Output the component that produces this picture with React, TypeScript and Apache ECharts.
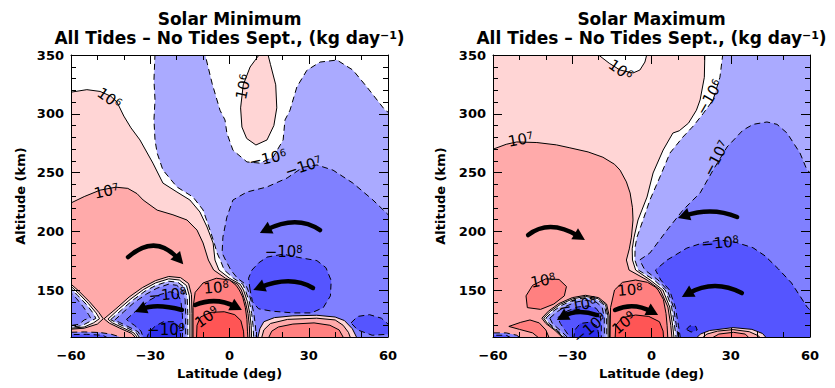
import React, { useEffect, useRef } from 'react';
import * as echarts from 'echarts';

type Pt = [number, number];

// ================= Solar Minimum (left panel) contour regions, [lat, alt] =================
const minLightPink: Pt[] = [[-61,318],[-54,320.5],[-49,319],[-45,315],[-42.6,310],[-40,298],[-37.3,288],[-33.9,277.7],[-29,258],[-25.2,241],[-19.9,233.4],[-15,226.6],[-11.2,216.4],[-8.5,203.6],[-6.2,190],[-5.5,175.5],[-4,167],[0,160],[4,155],[5.3,150],[6.8,140],[7.7,130],[8.2,120],[8.4,108],[-61,108]];
const minPink: Pt[] = [[-61,223],[-55,229.5],[-49,235],[-43,237.5],[-38.5,236.5],[-35,232],[-32.7,226.6],[-27.4,218],[-21.4,214],[-16.1,209.6],[-12.3,201],[-10,190],[-8,175.5],[-6,167],[-1.5,160],[3,155],[4.5,150],[6,140],[7,130],[7.5,120],[7.7,108],[-61,108]];
const minLightBlue: Pt[] = [[-28.2,351],[-28.6,328.7],[-28.2,311.7],[-28.6,294.7],[-28.2,277.7],[-27.4,266.6],[-25.2,252.1],[-19.9,237.7],[-13.8,229.1],[-10,218.1],[-7.4,201.1],[-5.8,190],[-4.7,181.5],[-3.5,175.5],[-2,167],[1.5,160],[5,155],[6,150],[7.5,140],[8.4,130],[8.9,120],[9.2,108],[61,108],[61,300],[58.9,303],[52,322.8],[46.7,337.2],[40.7,345.7],[34.3,344],[29.3,337],[25.5,322.8],[22.9,303],[21,294.7],[20.3,277.7],[16.5,263],[11.5,258],[6.6,259],[1.3,269],[-1,283.6],[-1.7,294.7],[-3.6,303],[-6.6,326],[-9.3,351]];
const minOval: Pt[] = [[11.5,351],[9.5,345],[7.8,339.8],[5.2,324.6],[4.2,305],[4.7,288.7],[6.5,279],[10,273.4],[14.2,277.7],[16.8,290],[17.9,305],[17.5,324.6],[15.5,342],[14.5,351]];
const minMidBlue: Pt[] = [[61,212],[54.3,226.6],[46.7,241],[39.2,252],[33.1,256.4],[27.8,254.5],[21.8,245.3],[14.2,237.7],[6.6,233.4],[1.3,226.6],[-1,212],[-2.5,195],[-2.8,181.5],[-1.5,175.5],[0.5,167],[3,160],[6,155],[7,150],[8.3,140],[9.2,130],[9.8,120],[10.2,108],[61,108]];
const minDarkOval: Pt[] = [[7.8,150],[7.2,160],[8.5,167],[11,173],[14.2,178],[20.3,180.5],[26.7,177.5],[33.1,175],[36.5,169],[38.5,158],[38.2,145],[35.5,135],[31,130.5],[24,130.5],[16,132],[11,134],[8.7,140]];
const minEdgeOval: Pt[] = [[46,122],[48.5,127.5],[53,129],[57.5,126],[61,119],[61,112.5],[54,111.5],[48.5,116]];
const minSouth1: Pt[] = [[10.6,108],[11.5,117],[13,123],[17,126.5],[24,128],[33,128.5],[40,127],[43.5,124],[46.5,117],[48.5,108]];
const minSouth2: Pt[] = [[12,108],[13,116],[15.5,121.5],[22,125],[33,126],[40,124.5],[43,120],[45,114],[46,108]];
const minSouth3: Pt[] = [[14.5,108],[16,115],[18.5,118.5],[24,121],[32,122],[38,120],[41.5,116],[43.5,108]];
const minFloor2: Pt[] = [[-61,108],[-61,114],[-55,114.3],[-49,113.8],[-45,112.5],[-42,110.5],[-41,108]];
const minFloor3: Pt[] = [[-61,108],[-61,112],[-54,112.3],[-48,111.5],[-45,108]];
const minWedge1: Pt[] = [[-61,157],[-57,149],[-53,140],[-49.5,131],[-47.8,125.5],[-50,121],[-55,117.5],[-61,116.5]];
const minWedge0: Pt[] = [[-61,155.2],[-57.2,147.3],[-53.5,138.7],[-50.5,130.5],[-49.2,125.6],[-51.5,122],[-55,118.5],[-61,117.3]];
const minWedgeN1: Pt[] = [[-61,153.5],[-57.5,145.5],[-54,137.3],[-51.5,130],[-50.6,125.8],[-53,123],[-56,119.5],[-61,118.2]];
const minWedgeN2: Pt[] = [[-61,150],[-58,143],[-55.5,136],[-53.3,129],[-52.6,126.3],[-55,124.5],[-57,120.8],[-61,119.5]];
const minCenter3: Pt[] = [[-13.8,108],[-13.8,135],[-13,148],[-10,156],[-5,160],[0,158.5],[2.5,154],[3.7,150],[5,144],[6,135],[6.6,125],[6.8,115],[7,108]];
const minCenter4: Pt[] = [[-12.5,108],[-12.3,120],[-11,127],[-7,131],[-2,131.5],[2,129],[4.3,124],[5.3,115],[5.5,108]];
const minCell1: Pt[] = [[-47.5,125.5],[-43,134],[-38,144],[-33,152],[-28,158],[-23,161.5],[-18.5,160.5],[-15.5,155.5],[-14.4,146],[-14.2,130],[-14.2,108],[-35,108],[-37,113],[-41.5,117.5],[-45.5,121.8]];
const minCell0: Pt[] = [[-46,125.2],[-42,133.5],[-37.3,142.5],[-32.5,150.5],[-28,156],[-23,159.5],[-19,158.5],[-16.3,153.8],[-15.2,145],[-15,130],[-15,108],[-34.3,108],[-36.2,113.5],[-40.5,118],[-44.3,122]];
const minCellN1: Pt[] = [[-45,124.8],[-41,132.8],[-36.8,141],[-32,149],[-27.8,154],[-23,157.5],[-19.5,156.5],[-17,152.2],[-16,143.5],[-15.8,130],[-15.8,108],[-33.6,108],[-35.4,114],[-39.5,118.5],[-43,122.3]];
const minCellN2: Pt[] = [[-43.5,124.3],[-40,131.5],[-36,139.5],[-31.5,146.5],[-27.5,151.5],[-23,155],[-20,154],[-17.8,150],[-16.8,142],[-16.6,130],[-16.6,108],[-33,108],[-34.6,114.5],[-38.5,119],[-41.7,122.5]];
const minCellN3: Pt[] = [[-39,125],[-35,133],[-30.5,141],[-26.5,146],[-22.5,148.5],[-19.8,147],[-18.4,141],[-17.8,128],[-17.8,108],[-32.4,108],[-33.5,115],[-36,120],[-38,123]];
const minCellN4: Pt[] = [[-31.5,108],[-30.5,114],[-28,119.5],[-25,123],[-21,123],[-18.8,118],[-18.4,108]];

// ================= Solar Maximum (right panel) contour regions =================
const maxLightPink: Pt[] = [[-61,351],[-20.6,351],[-16,343],[-11.9,337.2],[-7,334.7],[-4.4,337.2],[-2.5,344],[-1.7,351],[20.2,351],[20,331],[18.4,311.7],[17,303],[14,292],[10.5,285.5],[8.1,283.6],[4.4,269.1],[0.6,249.6],[-1.7,229.1],[-5.1,209.6],[-6.6,195],[-7.3,185],[-7.2,175.5],[-6,167],[-0.5,158.5],[4.3,150],[6.9,135.5],[8,120],[8.6,108],[-61,108]];
const maxPink: Pt[] = [[-61,269],[-55,274],[-51,276],[-43.4,275.5],[-36,273.5],[-30.9,271],[-24,267.5],[-18.4,263],[-14,257],[-11.9,252],[-9.5,242],[-8.1,232.6],[-7.2,220],[-7,209.6],[-7.6,195],[-8.4,185],[-9.5,175.5],[-8.5,167],[-1.7,158.5],[3.4,150],[6.2,135.5],[7.3,120],[7.8,108],[-61,108]];
const maxLightBlue: Pt[] = [[27,351],[61,351],[61,108],[9.4,108],[8.7,120],[7.6,135.5],[5.2,150],[1,158.5],[-5,167],[-6.3,175.5],[-6.2,186.6],[-5.5,195],[-3.6,207],[-0.6,226.6],[3.2,246.2],[7,266.6],[11.9,280.2],[16,290],[19.5,300],[23.3,311.7],[25.9,331]];
const maxMidBlue: Pt[] = [[61,248],[58.9,252],[56.2,266.6],[51.3,283.6],[47.5,291],[43.7,293],[38.5,291],[34.6,286],[28.6,271.7],[23.3,252],[18.4,232.6],[11.9,218],[5.9,201],[-0.6,181.5],[-4.5,175.5],[-2.5,167],[2.5,158.5],[6,150],[8.3,135.5],[9.4,120],[10.2,108],[61,108]];
const maxDarkBlue: Pt[] = [[5.9,175.5],[13.4,185.7],[20,190.5],[25.9,192.6],[32,190.5],[38.4,186],[43,179],[48,168],[53,156],[58.9,135.5],[61,131],[61,108],[11,108],[10.2,120],[9,135.5],[6.8,150],[3.5,158.5],[1.5,167]];
const maxSouth1: Pt[] = [[16.5,108],[18.5,112.5],[22,115.5],[30.9,118],[38,116.5],[42,113],[44,108]];
const maxSouth2: Pt[] = [[18.5,108],[21,112.5],[25,115],[30.9,116.3],[37,114.5],[40.5,111],[41.5,108]];
const maxSouth3: Pt[] = [[22,108],[25.5,112.5],[31,114],[35.5,112.5],[37.5,108]];
const maxBlobN4: Pt[] = [[13.2,116.5],[14.5,119.5],[16.8,119],[17.3,116],[15,114.2]];
const maxFloor2: Pt[] = [[-61,108],[-61,113.5],[-55,113.5],[-51,111.5],[-49,108]];
const maxFloor3: Pt[] = [[-61,108],[-61,111.5],[-55,111.5],[-52,108]];
const maxOval3: Pt[] = [[-47,135],[-47.5,145],[-45,154],[-40,159.5],[-35,159],[-32.2,153],[-33,145],[-37,138],[-42,133.5]];
const maxWedge3: Pt[] = [[-54,119],[-49.5,122.5],[-46,124.5],[-42.5,122],[-40,116],[-38.5,108],[-42,108],[-45,113.5],[-50,116.5]];
const maxCenter3: Pt[] = [[-15.7,108],[-15.5,135],[-14,150],[-11,156.5],[-6,158.5],[-1.5,156.5],[1.5,152.5],[2.5,150],[4.5,142],[5.5,130],[5.9,120],[6.2,108]];
const maxCenter4: Pt[] = [[-13.8,108],[-13.5,120],[-11,126.5],[-6,128.7],[-1,127.5],[3,123],[4.4,115],[4.6,108]];
const maxCell1: Pt[] = [[-41.5,126],[-39,132],[-35,138.5],[-30,143.5],[-25,145.5],[-20,143.5],[-17,138],[-16,128],[-15.9,108],[-33,108],[-36.5,115.5],[-40,121.5]];
const maxCell0: Pt[] = [[-40.8,126],[-38.3,131.8],[-34.5,137.8],[-29.8,142.5],[-25,144.5],[-20.3,142.7],[-17.4,137.5],[-16.5,128],[-16.4,108],[-32.5,108],[-36,115.5],[-39.4,121.5]];
const maxCellN1: Pt[] = [[-40,126],[-37.5,131.5],[-34,137],[-29.5,141.5],[-25,143.5],[-20.5,141.8],[-17.8,137],[-17,128],[-16.9,108],[-32,108],[-35.5,115.5],[-38.7,121.5]];
const maxCellN2: Pt[] = [[-38.5,126],[-36,131],[-33,135.5],[-29,139.5],[-25,141.3],[-21,139.8],[-18.7,135.5],[-17.9,127],[-17.8,108],[-31,108],[-34.5,115.5],[-37.5,121.5]];
const maxCellN3: Pt[] = [[-35.5,126.5],[-32,132],[-28,135.5],[-24,136.5],[-21,134.5],[-19.5,130],[-19,120],[-19,108],[-30.3,108],[-32.5,115],[-34.5,121.5]];
const maxCellN4: Pt[] = [[-29.5,108],[-29,116],[-27,121.5],[-23,122.7],[-20.5,119],[-19.8,108]];

// ================= Circulation arrows: [tailLat, tailAlt, midLat, midAlt, tipLat, tipAlt] =================
const minArrows: number[][] = [
  [-38.4, 178, -28, 186.6, -17.5, 172],
  [34.3, 201, 24.2, 207, 11.5, 198.5],
  [31.6, 151.7, 21.8, 156.8, 9, 150],
  [-13, 137.2, -4.7, 139.8, 4.7, 133],
  [-18, 133, -27.4, 135.5, -35.8, 131.3],
];
const maxArrows: number[][] = [
  [-46.7, 196.8, -37.3, 202.8, -25.2, 192.6],
  [32.4, 212.1, 22.1, 216.4, 10, 211.3],
  [34.2, 147.4, 23.3, 152.6, 11.5, 144],
  [-13.8, 133, -6.3, 135.5, 2.5, 128.7],
  [-20.6, 128.7, -28.2, 130.4, -35.8, 124.5],
];

// ================= Contour labels =================
type Lbl = { base: string; exp: string; at: Pt; rot: number };
const minLabels: Lbl[] = [
  { base: '10', exp: '6', at: [-45.5, 313], rot: -35 },
  { base: '10', exp: '6', at: [5.3, 323], rot: 78 },
  { base: '\u221210', exp: '6', at: [14.5, 262], rot: 12 },
  { base: '\u221210', exp: '7', at: [28, 255], rot: 18 },
  { base: '10', exp: '7', at: [-46.5, 234], rot: 12 },
  { base: '\u221210', exp: '8', at: [20.5, 182], rot: 0 },
  { base: '10', exp: '8', at: [-5, 152], rot: 5 },
  { base: '\u221210', exp: '8', at: [-23.5, 146], rot: 5 },
  { base: '10', exp: '9', at: [-8.5, 127], rot: 35 },
  { base: '\u221210', exp: '9', at: [-24, 116], rot: 0 },
];
const maxLabels: Lbl[] = [
  { base: '10', exp: '6', at: [-11.7, 337], rot: -35 },
  { base: '\u221210', exp: '6', at: [22, 314], rot: 60 },
  { base: '10', exp: '7', at: [-49.5, 278], rot: 10 },
  { base: '\u221210', exp: '7', at: [24.5, 262], rot: 62 },
  { base: '\u221210', exp: '8', at: [26, 190], rot: 5 },
  { base: '10', exp: '8', at: [-41, 158], rot: 10 },
  { base: '10', exp: '8', at: [-8.1, 150], rot: 5 },
  { base: '\u221210', exp: '8', at: [-28, 137], rot: 10 },
  { base: '10', exp: '9', at: [-10.4, 122], rot: 40 },
  { base: '\u221210', exp: '9', at: [-23.3, 117.5], rot: 40 },
];

const xTicks = [-60, -30, 0, 30, 60];
const yMajorTicks = [150, 200, 250, 300, 350];

const LEVEL_FILL: Record<string, string> = {
  '4': '#FF5555', '3': '#FF8080', '2': '#FFAAAA', '1': '#FFD5D5', '0': '#FFFFFF',
  '-1': '#AAAAFF', '-2': '#8080FF', '-3': '#5555FF', '-4': '#3030EE',
};

type Layer = { level: number; pts: Pt[] };
const L = (level: number, pts: Pt[]): Layer => ({ level, pts });

const minLayers: Layer[] = [
  L(1, minLightPink), L(2, minPink), L(-1, minLightBlue), L(1, minOval), L(-2, minMidBlue),
  L(-3, minDarkOval), L(-3, minEdgeOval), L(1, minSouth1), L(2, minSouth2), L(3, minSouth3),
  L(-2, minFloor2), L(-3, minFloor3),
  L(1, minWedge1), L(0, minWedge0), L(-1, minWedgeN1), L(-2, minWedgeN2),
  L(3, minCenter3), L(4, minCenter4),
  L(1, minCell1), L(0, minCell0), L(-1, minCellN1), L(-2, minCellN2), L(-3, minCellN3), L(-4, minCellN4),
];
const maxLayers: Layer[] = [
  L(1, maxLightPink), L(2, maxPink), L(-1, maxLightBlue), L(-2, maxMidBlue), L(-3, maxDarkBlue),
  L(1, maxSouth1), L(2, maxSouth2), L(3, maxSouth3), L(-4, maxBlobN4),
  L(-2, maxFloor2), L(-3, maxFloor3),
  L(3, maxOval3), L(3, maxWedge3),
  L(3, maxCenter3), L(4, maxCenter4),
  L(1, maxCell1), L(0, maxCell0), L(-1, maxCellN1), L(-2, maxCellN2), L(-3, maxCellN3), L(-4, maxCellN4),
];

const FONT = 'DejaVu Sans';
const fmtLat = (v: number) => (v < 0 ? '\u2212' + Math.abs(v) : String(v));

function xAxes(gridIndex: number) {
  const base: any = {
    type: 'value', gridIndex, min: xTicks[0], max: xTicks[xTicks.length - 1], interval: 30, z: 10,
    splitLine: { show: false },
    axisLine: { show: true, onZero: false, lineStyle: { color: '#000', width: 1 } },
    axisTick: { show: true, inside: true, length: 9, lineStyle: { color: '#000' } },
    minorTick: { show: true, splitNumber: 3, length: 5, lineStyle: { color: '#000' } },
  };
  return [
    { ...base, position: 'bottom', axisLabel: { show: true, margin: 12, color: '#000', fontSize: 13, fontWeight: 'bold', fontFamily: FONT, formatter: fmtLat } },
    { ...base, position: 'top', axisLabel: { show: false } },
  ];
}

function yAxes(gridIndex: number) {
  const base: any = {
    type: 'value', gridIndex, min: 110, max: 350, z: 10, splitLine: { show: false },
    axisLine: { show: true, onZero: false, lineStyle: { color: '#000', width: 1 } },
  };
  const hiddenLine = { show: false, onZero: false };
  const minor = { show: true, inside: true, length: 5, lineStyle: { color: '#000' } };
  const major = { show: true, inside: true, length: 9, customValues: yMajorTicks, lineStyle: { color: '#000' } };
  return [
    { ...base, position: 'left', interval: 10, axisTick: minor,
      axisLabel: { show: true, margin: 7, color: '#000', fontSize: 13, fontWeight: 'bold', fontFamily: FONT,
        formatter: (v: number) => (yMajorTicks.includes(v) ? String(v) : '') } },
    { ...base, position: 'left', axisLine: hiddenLine, axisTick: major, axisLabel: { show: false } },
    { ...base, position: 'right', interval: 10, axisTick: minor, axisLabel: { show: false } },
    { ...base, position: 'right', axisLine: hiddenLine, axisTick: major, axisLabel: { show: false } },
  ];
}

function regionSeries(layers: Layer[], xi: number, yi: number) {
  return {
    type: 'custom', xAxisIndex: xi, yAxisIndex: yi, clip: true, silent: true, z: 2,
    data: layers.map((_, i) => [0, 230, i]),
    renderItem: (params: any, api: any) => {
      const layer = layers[params.dataIndex];
      const points = layer.pts.map((p) => api.coord(p));
      return {
        type: 'polygon',
        shape: { points },
        style: {
          fill: LEVEL_FILL[String(layer.level)], stroke: '#000', lineWidth: 1,
          lineDash: layer.level < 0 ? [6, 4] : null,
        },
      };
    },
  };
}

function arrowSeries(arrows: number[][], xi: number, yi: number) {
  return {
    type: 'custom', xAxisIndex: xi, yAxisIndex: yi, silent: true, z: 20,
    data: arrows.map((a) => [a[0], a[1]]),
    renderItem: (params: any, api: any) => {
      const a = arrows[params.dataIndex];
      const p0 = api.coord([a[0], a[1]]);
      const pm = api.coord([a[2], a[3]]);
      const p2 = api.coord([a[4], a[5]]);
      const cp = [2 * pm[0] - (p0[0] + p2[0]) / 2, 2 * pm[1] - (p0[1] + p2[1]) / 2];
      let dx = p2[0] - cp[0], dy = p2[1] - cp[1];
      const len = Math.hypot(dx, dy) || 1; dx /= len; dy /= len;
      const HL = 12, HW = 6.5;
      const base = [p2[0] - dx * HL, p2[1] - dy * HL];
      const end = [p2[0] - dx * HL * 0.6, p2[1] - dy * HL * 0.6];
      return {
        type: 'group',
        children: [
          { type: 'bezierCurve', shape: { x1: p0[0], y1: p0[1], x2: end[0], y2: end[1], cpx1: cp[0], cpy1: cp[1] },
            style: { stroke: '#000', lineWidth: 4.5, fill: null, lineCap: 'round' } },
          { type: 'polygon', shape: { points: [p2, [base[0] - dy * HW, base[1] + dx * HW], [base[0] + dy * HW, base[1] - dx * HW]] },
            style: { fill: '#000' } },
        ],
      };
    },
  };
}

function labelSeries(labels: Lbl[], xi: number, yi: number) {
  return {
    type: 'custom', xAxisIndex: xi, yAxisIndex: yi, silent: true, z: 25,
    data: labels.map((l) => [l.at[0], l.at[1]]),
    renderItem: (params: any, api: any) => {
      const l = labels[params.dataIndex];
      const p = api.coord(l.at);
      return {
        type: 'text', x: p[0], y: p[1], rotation: (l.rot * Math.PI) / 180,
        style: {
          text: `${l.base}{e|${l.exp}}`, fill: '#000', fontSize: 15, fontFamily: FONT,
          align: 'center', verticalAlign: 'middle',
          rich: { e: { fontSize: 10, fontFamily: FONT, verticalAlign: 'top', fill: '#000' } },
        },
      };
    },
  };
}

function titleGraphics(cx: number, name: string) {
  const common = { fill: '#000', fontFamily: FONT, fontWeight: 'bold', fontSize: 17, align: 'center', verticalAlign: 'middle' };
  return [
    { type: 'text', x: cx, y: 19, style: { ...common, text: name } },
    { type: 'text', x: cx, y: 38, style: { ...common, text: 'All Tides \u2013 No Tides Sept., (kg day{s|\u22121})',
      rich: { s: { fontSize: 11, fontWeight: 'bold', fontFamily: FONT, verticalAlign: 'top', fill: '#000' } } } },
    { type: 'text', x: cx, y: 373, style: { ...common, fontSize: 13, text: 'Latitude (deg)' } },
  ];
}

export default function App() {
  const ref = useRef<HTMLDivElement>(null);
  useEffect(() => {
    document.body.style.margin = '0';
    const chart = echarts.init(ref.current!, null, { renderer: 'svg' });
    const option: any = {
      animation: false,
      backgroundColor: '#fff',
      grid: [
        { left: 71, top: 55, width: 317, height: 282, show: false },
        { left: 493, top: 55, width: 317, height: 282, show: false },
      ],
      xAxis: [...xAxes(0), ...xAxes(1)],
      yAxis: [...yAxes(0), ...yAxes(1)],
      series: [
        regionSeries(minLayers, 0, 0),
        regionSeries(maxLayers, 2, 4),
        arrowSeries(minArrows, 0, 0),
        arrowSeries(maxArrows, 2, 4),
        labelSeries(minLabels, 0, 0),
        labelSeries(maxLabels, 2, 4),
      ],
      graphic: [
        ...titleGraphics(229.5, 'Solar Minimum'),
        ...titleGraphics(651.5, 'Solar Maximum'),
        { type: 'text', x: 20, y: 196, rotation: Math.PI / 2,
          style: { text: 'Altitude (km)', fill: '#000', fontFamily: FONT, fontWeight: 'bold', fontSize: 13, align: 'center', verticalAlign: 'middle' } },
        { type: 'text', x: 440, y: 196, rotation: Math.PI / 2,
          style: { text: 'Altitude (km)', fill: '#000', fontFamily: FONT, fontWeight: 'bold', fontSize: 13, align: 'center', verticalAlign: 'middle' } },
      ],
    };
    chart.setOption(option);
    return () => chart.dispose();
  }, []);
  return <div ref={ref} style={{ width: 835, height: 388 }} />;
}
